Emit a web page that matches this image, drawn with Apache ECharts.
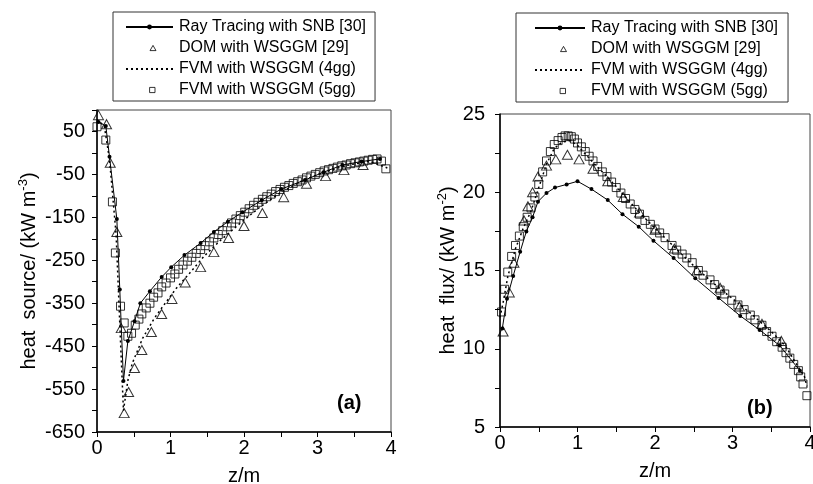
<!DOCTYPE html>
<html><head><meta charset="utf-8">
<script src="https://cdn.jsdelivr.net/npm/echarts@6/dist/echarts.min.js"></script>
<style>html,body{margin:0;padding:0;background:#fff}#c{width:813px;height:484px}</style>
</head><body><div id="c"></div>
<script>
// ---------- data ----------
const seriesNames = ['Ray Tracing with SNB [30]', 'DOM with WSGGM [29]', 'FVM with WSGGM (4gg)', 'FVM with WSGGM (5gg)'];

// (a) heat source (kW m^-3) vs z (m)
const aRay = [[0.02,72],[0.12,63],[0.17,-9],[0.27,-154],[0.31,-318],[0.36,-531],[0.42,-438],[0.51,-392],[0.59,-350],[0.72,-322],[0.88,-289],[1.01,-266],[1.19,-238],[1.41,-210],[1.59,-184],[1.78,-160],[1.98,-138],[2.24,-110],[2.51,-84],[2.83,-63],[3.08,-45],[3.34,-28],[3.6,-20],[3.85,-14]];
const aDOM = [[0.02,88],[0.13,67],[0.18,-23],[0.27,-184],[0.33,-408],[0.37,-606],[0.43,-557],[0.51,-501],[0.61,-459],[0.74,-417],[0.88,-375],[1.02,-340],[1.2,-302],[1.41,-266],[1.59,-231],[1.79,-198],[2.0,-170],[2.25,-140],[2.54,-103],[2.85,-72],[3.11,-54],[3.36,-40],[3.62,-28]];
const a4gg = [[0.0,78],[0.1,62],[0.17,-15],[0.26,-190],[0.32,-440],[0.36,-600],[0.42,-530],[0.48,-490],[0.62,-432],[0.78,-385],[0.89,-359],[1.08,-315],[1.26,-280],[1.46,-240],[1.67,-205],[1.94,-165],[2.21,-127],[2.5,-92],[2.8,-64],[3.1,-44],[3.4,-29],[3.7,-19],[3.95,-35]];
const a5gg = [[0.0,61],[0.12,30],[0.21,-114],[0.25,-233],[0.32,-357],[0.37,-396],[0.42,-427],[0.47,-420],[0.52,-401],[0.57,-387],[0.61,-375],[0.67,-361],[0.72,-350],[0.77,-336],[0.83,-326],[0.88,-312],[0.94,-303],[1.0,-291],[1.06,-282],[1.11,-271],[1.17,-261],[1.23,-252],[1.29,-243],[1.35,-234],[1.41,-225],[1.47,-216],[1.53,-207],[1.59,-198],[1.65,-190],[1.71,-181],[1.77,-172],[1.83,-163],[1.89,-154],[1.95,-146],[2.01,-138],[2.07,-130],[2.13,-122],[2.19,-115],[2.25,-108],[2.31,-102],[2.37,-96],[2.43,-90],[2.49,-85],[2.55,-80],[2.61,-76],[2.67,-71],[2.73,-67],[2.79,-63],[2.85,-58],[2.91,-54],[2.97,-50],[3.03,-46],[3.09,-42],[3.15,-39],[3.21,-36],[3.27,-33],[3.33,-30],[3.39,-28],[3.45,-25],[3.51,-23],[3.57,-21],[3.63,-19],[3.69,-17],[3.75,-15],[3.81,-14],[3.87,-19],[3.93,-37]];

// (b) heat flux (kW m^-2) vs z (m)
const bRay = [[0.03,11.3],[0.09,13.2],[0.17,14.65],[0.26,16.2],[0.34,17.5],[0.42,18.4],[0.49,19.4],[0.6,19.95],[0.71,20.3],[0.86,20.5],[1.0,20.7],[1.18,20.2],[1.39,19.5],[1.58,18.6],[1.79,17.8],[1.98,16.9],[2.24,15.8],[2.52,14.5],[2.82,13.25],[3.1,12.1],[3.35,11.2],[3.61,10.2],[3.87,8.6]];
const bDOM = [[0.04,11.1],[0.12,13.6],[0.18,15.5],[0.31,18.2],[0.36,19.1],[0.42,20.0],[0.49,21.0],[0.6,21.7],[0.72,22.1],[0.87,22.4],[1.02,22.1],[1.2,21.5],[1.39,20.7],[1.59,19.7],[1.8,18.7],[2.0,17.6],[2.25,16.4],[2.54,15.0],[2.84,13.9],[3.09,12.7],[3.38,11.6],[3.63,10.5]];
const b4gg = [[0.0,12.0],[0.05,13.2],[0.1,14.6],[0.2,16.4],[0.3,17.7],[0.4,18.8],[0.5,20.3],[0.6,21.8],[0.7,22.8],[0.8,23.2],[0.9,23.3],[1.0,23.0],[1.2,21.9],[1.4,20.9],[1.6,19.8],[1.8,18.7],[2.0,17.7],[2.25,16.5],[2.5,15.3],[2.75,14.2],[3.0,13.2],[3.25,12.2],[3.5,11.1],[3.68,10.2],[3.81,9.15],[3.93,8.2],[3.96,7.6]];
const b5gg = [[0.02,12.35],[0.06,13.8],[0.1,14.9],[0.15,15.9],[0.2,16.6],[0.25,17.2],[0.3,17.8],[0.35,18.4],[0.4,19.0],[0.45,19.7],[0.5,20.5],[0.55,21.3],[0.6,22.0],[0.65,22.6],[0.7,23.05],[0.75,23.3],[0.8,23.5],[0.84,23.6],[0.88,23.6],[0.92,23.55],[0.96,23.4],[1.0,23.15],[1.05,22.9],[1.1,22.6],[1.15,22.3],[1.2,22.0],[1.26,21.65],[1.32,21.3],[1.38,21.0],[1.44,20.65],[1.5,20.3],[1.56,19.95],[1.62,19.6],[1.68,19.25],[1.74,18.9],[1.8,18.6],[1.87,18.2],[1.94,17.95],[2.0,17.65],[2.06,17.4],[2.13,17.1],[2.22,16.6],[2.28,16.3],[2.35,16.05],[2.41,15.8],[2.48,15.5],[2.56,15.0],[2.62,14.7],[2.71,14.4],[2.77,14.1],[2.84,13.75],[2.9,13.5],[2.99,13.1],[3.07,12.8],[3.15,12.5],[3.23,12.15],[3.29,11.85],[3.38,11.5],[3.44,11.1],[3.51,10.8],[3.57,10.45],[3.64,10.1],[3.69,9.75],[3.74,9.4],[3.79,9.0],[3.85,8.6],[3.88,8.2],[3.91,7.75],[3.96,7.0]];

// axis ranges / titles
const xRange = [0, 4];
const aYRange = [-650, 100];
const bYRange = [5, 25];
const aYTitle = 'heat  source/ (kW m{s|-3})';
const bYTitle = 'heat  flux/ (kW m{s|-2})';
const xTitle = 'z/m';
const panelTags = ['(a)', '(b)'];

// ---------- chart ----------
const FONT = '"Liberation Sans", Arial, sans-serif';
const chart = echarts.init(document.getElementById('c'), null, {renderer: 'canvas'});

// legend icons: small marker centred inside a wide (47x6) icon box
const TRI_ICON = 'path://M0,0M47,6M27,0.4L30,5.6L24,5.6Z';
const RECT_ICON = 'path://M0,0M47,6M23.6,0.4H29V5.6H23.6Z';

function xAxis(gi) {
  return {
    gridIndex: gi, type: 'value', min: xRange[0], max: xRange[1], interval: 0.5,
    name: xTitle, nameLocation: 'middle', nameGap: 34,
    nameTextStyle: {fontFamily: FONT, fontSize: 20, color: '#000'},
    axisLine: {show: true, onZero: false, lineStyle: {color: '#000', width: 1.5}},
    axisTick: {show: true, length: 5, lineStyle: {color: '#000', width: 1}},
    axisLabel: {fontFamily: FONT, fontSize: 20, color: '#000', margin: 6,
      formatter: v => (Math.abs(v - Math.round(v)) < 1e-9 ? String(v) : '')},
    splitLine: {show: false}
  };
}
function yAxis(gi, range, step, labelStep, title, gap, lblMargin) {
  return {
    gridIndex: gi, type: 'value', min: range[0], max: range[1], interval: step,
    name: title, nameLocation: 'middle', nameGap: gap, nameRotate: 90,
    nameTextStyle: {fontFamily: FONT, fontSize: 20, color: '#000',
      rich: {s: {fontFamily: FONT, fontSize: 13, color: '#000', verticalAlign: 'top', padding: [0, 0, 12, 0]}}},
    axisLine: {show: true, onZero: false, lineStyle: {color: '#000', width: 1.5}},
    axisTick: {show: true, length: 5, lineStyle: {color: '#000', width: 1}},
    axisLabel: {fontFamily: FONT, fontSize: 20, color: '#000', margin: lblMargin,
      formatter: v => (Math.abs(((v - range[0]) / labelStep) - Math.round((v - range[0]) / labelStep)) < 1e-9 ? String(v) : '')},
    splitLine: {show: false}
  };
}
function makeSeries(gi, ray, dom, g4, g5) {
  return [
    {name: seriesNames[0], type: 'line', xAxisIndex: gi, yAxisIndex: gi, data: ray,
      symbol: 'circle', symbolSize: 4, showSymbol: true, itemStyle: {color: '#000'},
      lineStyle: {color: '#000', width: 1}, z: 4, animation: false},
    {name: seriesNames[1], type: 'scatter', xAxisIndex: gi, yAxisIndex: gi, data: dom,
      symbol: 'triangle', symbolSize: [10, 9],
      itemStyle: {color: 'rgba(255,255,255,0)', borderColor: '#000', borderWidth: 1}, z: 3, animation: false},
    {name: seriesNames[2], type: 'line', xAxisIndex: gi, yAxisIndex: gi, data: g4,
      symbol: 'none', itemStyle: {color: '#000'},
      lineStyle: {color: '#000', width: 1.5, type: [2, 3]}, z: 2, animation: false},
    {name: seriesNames[3], type: 'scatter', xAxisIndex: gi, yAxisIndex: gi, data: g5,
      symbol: 'rect', symbolSize: 8,
      itemStyle: {color: 'rgba(255,255,255,0)', borderColor: '#000', borderWidth: 1}, z: 3, animation: false}
  ];
}
function legend(left, top, pad, iw) {
  return {
    data: [
      {name: seriesNames[0]},
      {name: seriesNames[1], icon: TRI_ICON, itemStyle: {color: 'rgba(255,255,255,0)', borderColor: '#000', borderWidth: 1}},
      {name: seriesNames[2], itemStyle: {color: 'rgba(0,0,0,0)', borderWidth: 0, opacity: 0}},
      {name: seriesNames[3], icon: RECT_ICON, itemStyle: {color: 'rgba(255,255,255,0)', borderColor: '#000', borderWidth: 1}}
    ],
    orient: 'vertical', left: left, top: top, padding: pad,
    itemWidth: iw, itemHeight: 6, itemGap: 5,
    borderColor: '#333', borderWidth: 1, backgroundColor: '#fff',
    textStyle: {fontFamily: FONT, fontSize: 16, color: '#000', padding: [0, 0, 0, 1]},
    selectedMode: false
  };
}

chart.setOption({
  animation: false,
  backgroundColor: '#fff',
  grid: [
    {left: 97, top: 110, width: 294, height: 322, show: true, borderColor: '#444', borderWidth: 1,
      containLabel: false, outerBoundsMode: 'none'},
    {left: 500, top: 114, width: 310, height: 313, show: true, borderColor: '#444', borderWidth: 1,
      containLabel: false, outerBoundsMode: 'none'}
  ],
  xAxis: [xAxis(0), xAxis(1)],
  yAxis: [
    yAxis(0, aYRange, 50, 100, aYTitle, 55, 12),
    yAxis(1, bYRange, 2.5, 5, bYTitle, 22, 15)
  ],
  legend: [legend(113, 12, [7, 9, 3, 12], 47), legend(516, 13, [7, 10, 3, 18], 50)],
  series: [].concat(makeSeries(0, aRay, aDOM, a4gg, a5gg), makeSeries(1, bRay, bDOM, b4gg, b5gg)),
  graphic: [
    {type: 'text', left: 337, top: 393, style: {text: panelTags[0], font: 'bold 20px ' + FONT, fill: '#000'}},
    {type: 'text', left: 747, top: 398, style: {text: panelTags[1], font: 'bold 20px ' + FONT, fill: '#000'}}
  ]
});
</script></body></html>
